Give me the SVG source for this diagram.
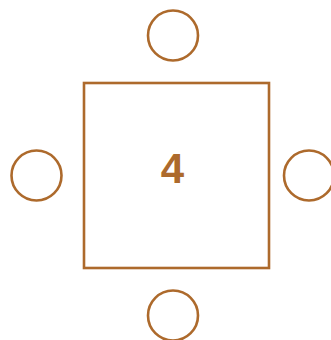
<svg xmlns="http://www.w3.org/2000/svg" width="331" height="340" viewBox="0 0 331 340">
<style>
.s{fill:none;stroke:#ad6a2c;stroke-width:2.6}
.t{font-family:"Liberation Sans",Arial,sans-serif;font-weight:bold;font-size:42px;fill:#ad6a2c;text-anchor:middle}
</style>
<rect width="331" height="340" fill="#fff"/>
<g id="table"><rect class="s" x="84" y="83" width="185" height="185"/><text class="t" x="172.5" y="183">4</text></g>
<g id="seat-top"><circle class="s" cx="173" cy="35.5" r="25"/></g>
<g id="seat-left"><circle class="s" cx="36.5" cy="175.5" r="25"/></g>
<g id="seat-right"><circle class="s" cx="309" cy="175.5" r="25"/></g>
<g id="seat-bottom"><circle class="s" cx="173" cy="315.5" r="25"/></g>
<g id="connectors"></g>
</svg>
